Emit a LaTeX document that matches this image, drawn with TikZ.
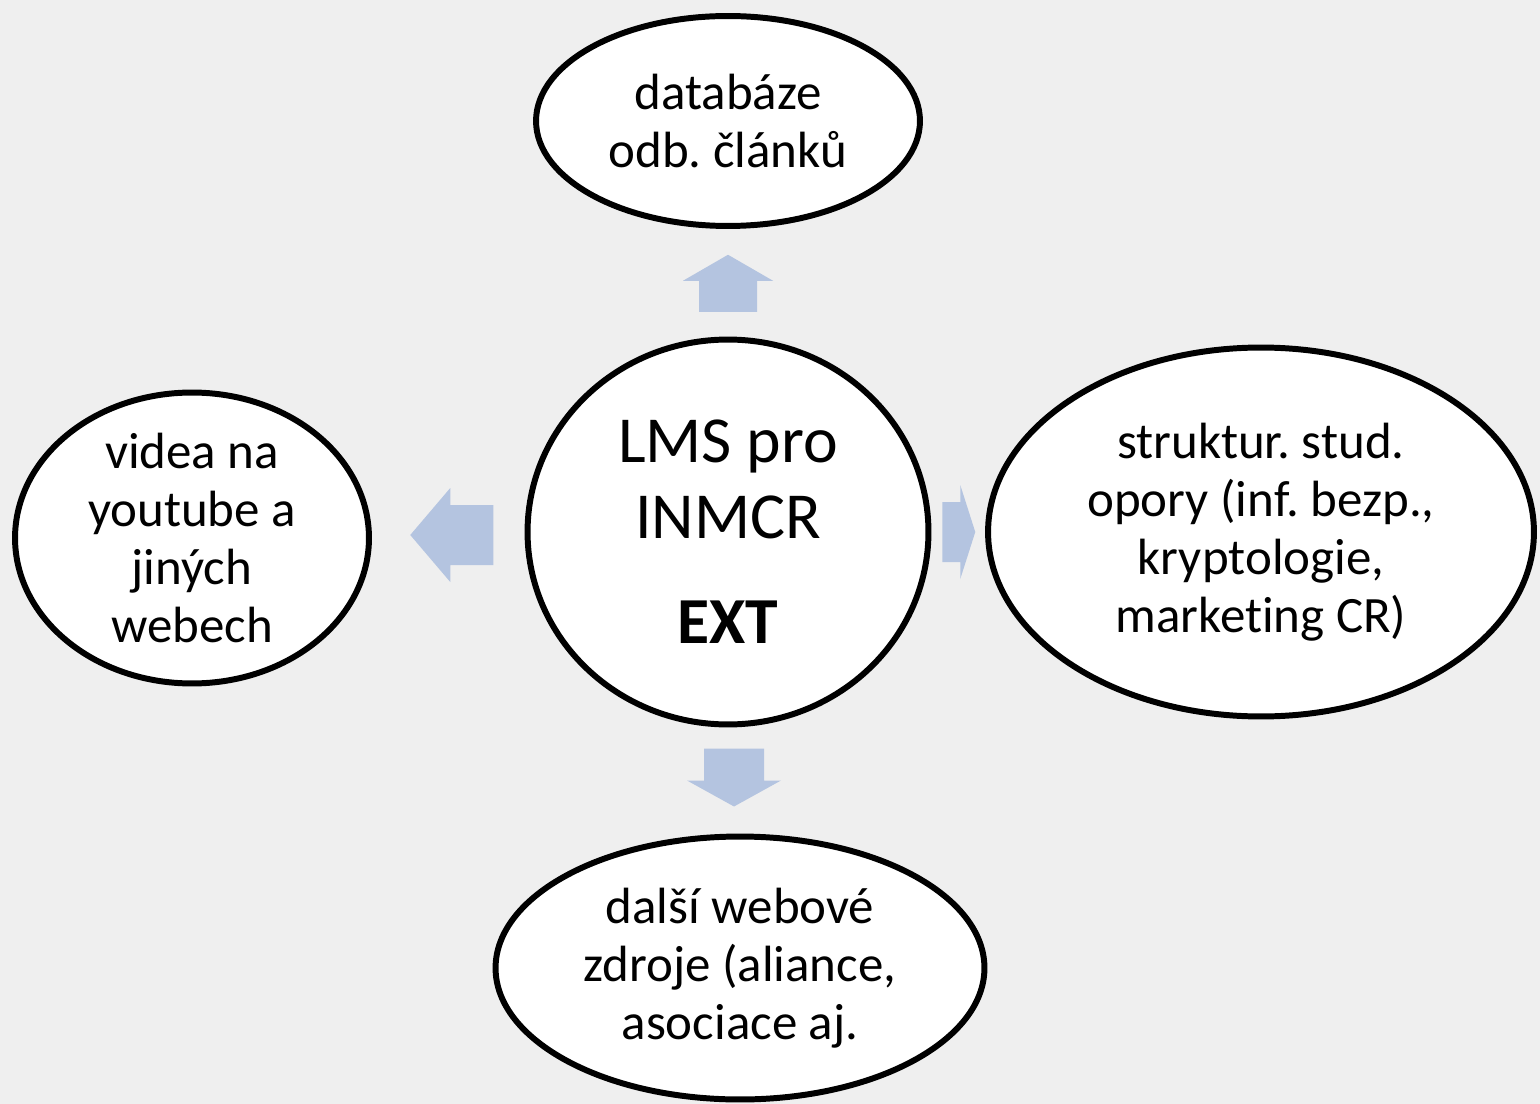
\documentclass[tikz,border=0pt]{standalone}
\usepackage{fontspec}
\setmainfont{Carlito}[Ligatures=NoCommon]
\frenchspacing
\usetikzlibrary{shapes.geometric,calc}
\definecolor{bgcol}{RGB}{239,239,239}
\definecolor{arrowcol}{RGB}{180,196,224}

\begin{document}
\begin{tikzpicture}[x=0.02cm,y=-0.02cm,
	bubble/.style={ellipse,draw,line width=3.4pt,fill=white,inner xsep=0pt,inner ysep=-10pt,align=center,font=\fontsize{29}{33}\selectfont},
	blockarrow/.style={fill=arrowcol}]
\fill[bgcol](0,0)rectangle(1540,1104);
\useasboundingbox(0,0)rectangle(1540,1104);
\node[bubble,minimum width=8.02cm,minimum height=7.7cm,font=\fontsize{37.4}{43.1}\selectfont](lms)at(728,532){LMS pro\\INMCR\\[17pt]\textbf{EXT}};
\node[bubble,minimum width=7.68cm,minimum height=4.2cm](databaze)at(728,121){databáze\\odb. článků};
\node[bubble,minimum width=7.08cm,minimum height=5.82cm](videa)at(192,538){videa na\\youtube a\\jiných\\webech};
\node[bubble,minimum width=10.92cm,minimum height=7.38cm](opory)at(1261,532){struktur. stud.\\opory (inf. bezp.,\\kryptologie,\\marketing CR)};
\node[bubble,minimum width=9.78cm,minimum height=5.26cm](zdroje)at(740,968){další webové\\zdroje (aliance,\\asociace aj.};
% block arrows
\fill[blockarrow]($(lms.north)!.5!(databaze.south)$)++(-29,29)--++(0,-31)--++(-16,0)--++(45,-26)--++(45,26)--++(-16,0)--++(0,31)--cycle;
\fill[blockarrow]($(lms.south)!.5!(zdroje.north)$)++(-30,-32)--++(0,32)--++(-17,0)--++(47,26)--++(47,-26)--++(-17,0)--++(0,-32)--cycle;
\fill[blockarrow]($(videa.east)!.5!(lms.west)$)++(45,-30)--++(-43,0)--++(0,-17)--++(-40,47)--++(40,47)--++(0,-17)--++(43,0)--cycle;
\fill[blockarrow]($(lms.east)!.5!(opory.west)$)++(-16,-30)--++(18,0)--++(0,-17)--++(15,47)--++(-15,47)--++(0,-17)--++(-18,0)--cycle;
\end{tikzpicture}
\end{document}
